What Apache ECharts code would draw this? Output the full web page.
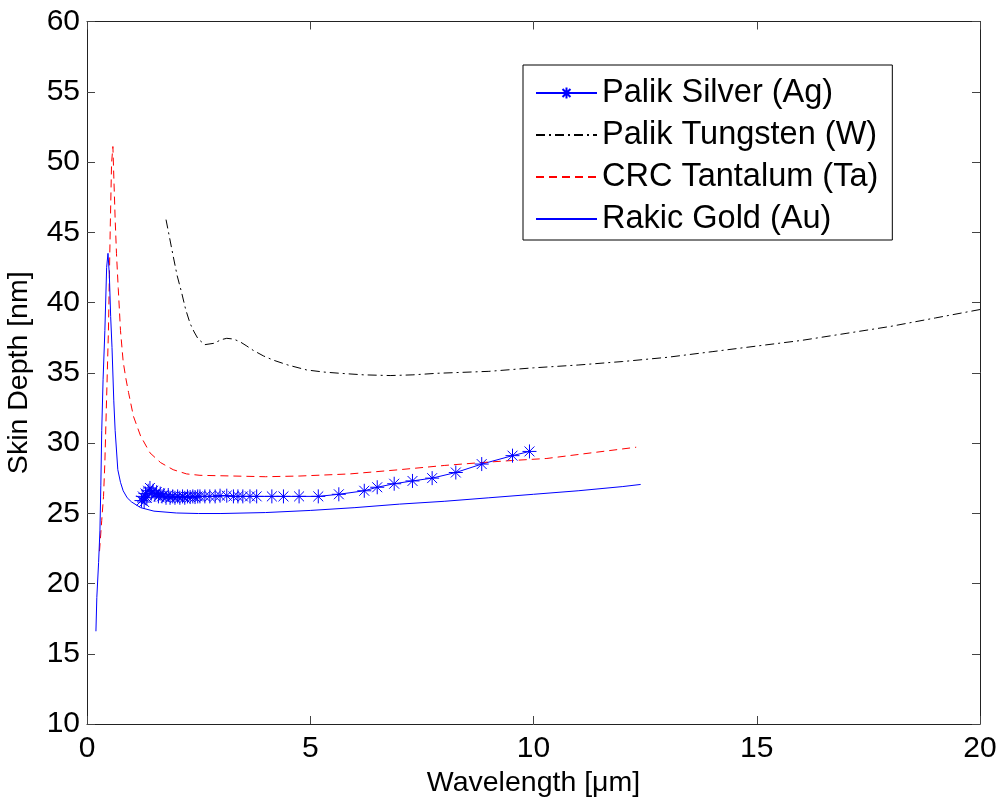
<!DOCTYPE html>
<html>
<head>
<meta charset="utf-8">
<script src="https://cdn.jsdelivr.net/npm/echarts@6/dist/echarts.min.js"></script>
<style>html,body{margin:0;padding:0;background:#fff}#c{width:1001px;height:802px}</style>
</head>
<body>
<div id="c"></div>
<script>
// Wavelength [µm] vs skin depth [nm]
const silverData = [
  [1.22,25.9],[1.25,26.2],[1.28,25.8],[1.31,26.4],[1.34,26.1],[1.37,26.6],[1.41,26.8],[1.44,26.4],[1.48,26.6],
  [1.52,26.3],[1.56,26.5],[1.60,26.2],[1.64,26.4],[1.68,26.2],[1.72,26.3],[1.77,26.1],[1.82,26.3],[1.86,26.1],
  [1.92,26.2],[1.97,26.1],[2.03,26.2],[2.08,26.1],[2.14,26.2],[2.19,26.1],[2.25,26.2],[2.31,26.15],[2.37,26.2],
  [2.42,26.15],[2.48,26.2],[2.53,26.2],[2.64,26.2],[2.75,26.2],[2.87,26.2],[2.98,26.25],[3.13,26.25],[3.28,26.2],
  [3.38,26.2],[3.49,26.2],[3.65,26.2],[3.80,26.2],[4.14,26.2],[4.40,26.2],[4.75,26.2],[5.18,26.2],[5.64,26.35],
  [6.21,26.6],[6.50,26.85],[6.88,27.1],[7.29,27.3],[7.73,27.5],[8.26,27.9],[8.84,28.5],[9.53,29.1],[9.91,29.4]
];
const tungstenData = [
  [1.77,45.9],[1.85,44.6],[1.93,43.3],[2.02,41.9],[2.12,40.7],[2.21,39.5],[2.31,38.5],[2.40,37.9],[2.49,37.4],
  [2.64,37.0],[2.85,37.1],[3.0,37.35],[3.13,37.45],[3.28,37.4],[3.43,37.2],[3.58,36.9],[3.72,36.6],[3.95,36.2],
  [4.17,35.9],[4.50,35.55],[4.92,35.2],[5.30,35.05],[5.67,34.96],[6.2,34.85],[6.79,34.8],[7.30,34.85],[7.83,34.96],
  [9.0,35.1],[10.0,35.35],[11.0,35.55],[12.0,35.8],[13.0,36.1],[14.0,36.5],[15.0,36.9],[16.0,37.3],[17.0,37.8],
  [18.0,38.3],[19.0,38.9],[20.0,39.5]
];
const tantalumData = [
  [0.28,22.3],[0.33,24.5],[0.37,26.2],[0.40,28.6],[0.44,33.3],[0.48,38.0],[0.52,45.2],[0.55,49.9],[0.58,51.1],
  [0.60,49.0],[0.63,46.0],[0.66,43.5],[0.70,41.0],[0.75,38.0],[0.81,35.8],[0.87,34.6],[0.93,33.6],[1.04,31.9],
  [1.20,30.5],[1.41,29.3],[1.65,28.6],[1.93,28.1],[2.23,27.8],[2.53,27.7],[3.27,27.65],[4.00,27.6],[4.77,27.65],
  [5.89,27.8],[7.00,28.1],[8.00,28.4],[8.80,28.6],[9.50,28.75],[10.30,28.9],[11.30,29.3],[12.30,29.7]
];
const goldData = [
  [0.20,16.6],[0.22,19.0],[0.26,21.5],[0.29,23.8],[0.31,27.0],[0.33,30.9],[0.36,34.5],[0.40,38.0],[0.44,42.5],
  [0.47,43.5],[0.50,42.0],[0.53,39.0],[0.56,36.8],[0.60,33.0],[0.63,30.9],[0.69,28.1],[0.75,27.2],[0.81,26.6],
  [0.90,26.1],[1.00,25.8],[1.20,25.4],[1.50,25.15],[2.00,25.02],[2.50,24.98],[3.00,24.98],[4.00,25.05],[5.00,25.2],
  [6.00,25.4],[7.00,25.65],[8.00,25.85],[9.00,26.1],[10.00,26.35],[11.00,26.6],[12.00,26.9],[12.40,27.05]
];
const seriesNames = ['Palik Silver (Ag)','Palik Tungsten (W)','CRC Tantalum (Ta)','Rakic Gold (Au)'];
const xLabel = 'Wavelength [\u03bcm]';
const yLabel = 'Skin Depth [nm]';

const FONT = 'Liberation Sans, Arial, Helvetica, sans-serif';
const STAR = 'path://M0,-10L0,10M-10,0L10,0M-7.07,-7.07L7.07,7.07M-7.07,7.07L7.07,-7.07';
const axisLine = {show:true, onZero:false, lineStyle:{color:'#222', width:1}};
const tick = {show:true, inside:true, length:8, lineStyle:{color:'#444', width:1}};

const chart = echarts.init(document.getElementById('c'), null, {renderer:'canvas'});
chart.setOption({
  backgroundColor:'#fff',
  animation:false,
  grid:{left:87, right:21, top:21.5, bottom:78, containLabel:false, outerBoundsMode:'none'},
  xAxis:[
    {type:'value', min:0, max:20, interval:5, position:'bottom',
     name:xLabel, nameLocation:'middle', nameGap:45,
     nameTextStyle:{fontFamily:FONT, fontSize:28.5, color:'#000'},
     axisLine:axisLine, axisTick:tick, splitLine:{show:false},
     axisLabel:{fontFamily:FONT, fontSize:30, color:'#000', margin:10}},
    {type:'value', min:0, max:20, interval:5, position:'top',
     axisLine:axisLine, axisTick:tick, splitLine:{show:false}, axisLabel:{show:false}}
  ],
  yAxis:[
    {type:'value', min:10, max:60, interval:5, position:'left',
     name:yLabel, nameLocation:'middle', nameGap:53,
     nameTextStyle:{fontFamily:FONT, fontSize:28.5, color:'#000'},
     axisLine:axisLine, axisTick:tick, splitLine:{show:false},
     axisLabel:{fontFamily:FONT, fontSize:30, color:'#000', margin:7}},
    {type:'value', min:10, max:60, interval:5, position:'right',
     axisLine:axisLine, axisTick:tick, splitLine:{show:false}, axisLabel:{show:false}}
  ],
  legend:{
    orient:'vertical', left:523, top:65,
    padding:[7,14,0,12], itemGap:0, itemWidth:61, itemHeight:14,
    borderColor:'#000', borderWidth:1, backgroundColor:'#fff',
    textStyle:{fontFamily:FONT, fontSize:32.5, color:'#000', lineHeight:42},
    data:[
      {name:seriesNames[0]},
      {name:seriesNames[1], itemStyle:{opacity:0}},
      {name:seriesNames[2], itemStyle:{opacity:0}},
      {name:seriesNames[3], itemStyle:{opacity:0}}
    ]
  },
  series:[
    {name:seriesNames[0], type:'line', data:silverData, xAxisIndex:0, yAxisIndex:0,
     symbol:STAR, symbolSize:14, showAllSymbol:true,
     lineStyle:{color:'#0000ff', width:1},
     itemStyle:{color:'#0000ff', borderColor:'#0000ff', borderWidth:1}},
    {name:seriesNames[1], type:'line', data:tungstenData, showSymbol:false, symbol:'none',
     lineStyle:{color:'#000', width:1, type:[9,4,2,4]}, itemStyle:{color:'#000'}},
    {name:seriesNames[2], type:'line', data:tantalumData, showSymbol:false, symbol:'none',
     lineStyle:{color:'#ff0000', width:1, type:[8,5]}, itemStyle:{color:'#ff0000'}},
    {name:seriesNames[3], type:'line', data:goldData, showSymbol:false, symbol:'none',
     lineStyle:{color:'#0000ff', width:1}, itemStyle:{color:'#0000ff'}}
  ]
});
</script>
</body>
</html>
